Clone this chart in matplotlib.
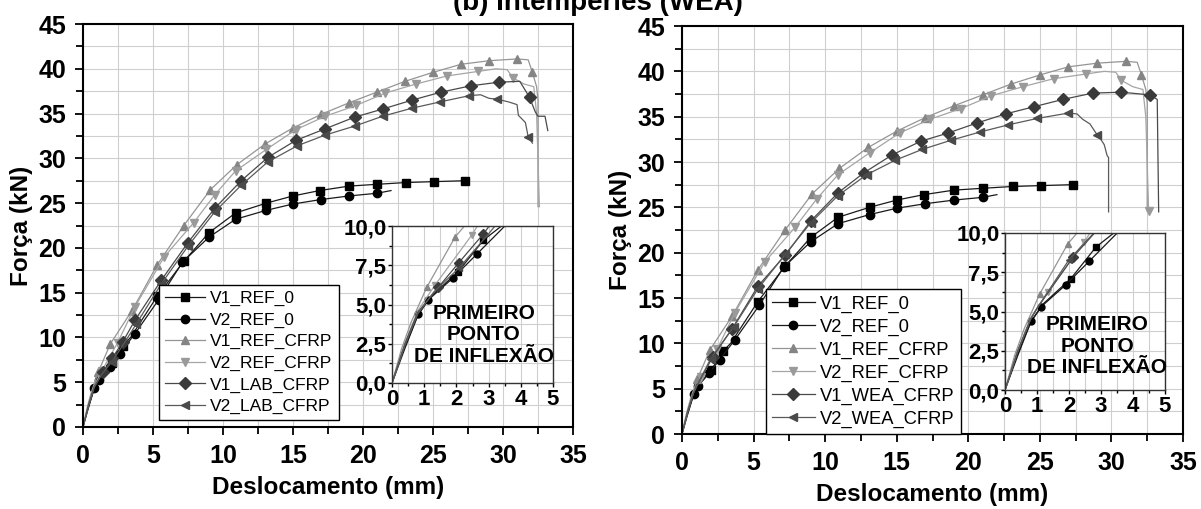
import matplotlib
matplotlib.use('Agg')
import matplotlib.pyplot as plt
from matplotlib.ticker import MultipleLocator, FuncFormatter

plt.rcParams['font.family'] = ['Liberation Sans', 'DejaVu Sans']

# dados (deslocamento mm, força kN)
v1_ref0_x = [0, 0.3, 0.8, 1.2, 2.06, 2.84, 3.4, 5.3, 7.2, 9.0, 10.9, 13.1, 15.0, 16.9, 19.0, 21.0, 23.1, 25.1, 27.3]
v1_ref0_y = [0, 1.8, 4.3, 5.5, 7.1, 9.1, 10.0, 14.6, 18.5, 21.7, 23.9, 25.0, 25.8, 26.4, 26.9, 27.1, 27.3, 27.4, 27.5]

v2_ref0_x = [0, 0.4, 0.82, 1.13, 1.9, 2.63, 3.7, 5.4, 7.1, 9.0, 10.9, 13.1, 15.0, 17.0, 19.0, 21.0, 22.0]
v2_ref0_y = [0, 2.2, 4.4, 5.3, 6.7, 8.2, 10.4, 14.2, 18.4, 21.2, 23.2, 24.2, 24.9, 25.4, 25.8, 26.1, 26.4]

v1_refc_x = [0, 0.3, 0.6, 1.08, 1.96, 3.5, 5.3, 7.2, 9.1, 11.0, 13.0, 15.0, 17.0, 19.0, 21.0, 23.0, 25.0,
             27.0, 29.0, 31.0, 31.8, 32.1, 32.4, 32.5, 32.5]
v1_refc_y = [0, 2.2, 3.9, 6.1, 9.3, 13.0, 18.1, 22.5, 26.5, 29.3, 31.6, 33.4, 34.9, 36.2, 37.4, 38.6, 39.6,
             40.5, 40.9, 41.1, 41.0, 39.6, 38.0, 36.5, 24.6]

v2_refc_x = [0, 0.4, 0.8, 1.34, 2.47, 3.7, 5.8, 7.9, 9.4, 10.9, 13.1, 15.2, 17.3, 19.5, 21.6, 23.8, 26.0,
             28.2, 29.5, 30.3, 30.7, 31.5, 32.2, 32.4, 32.6]
v2_refc_y = [0, 2.5, 4.6, 6.25, 9.4, 13.4, 19.0, 22.8, 25.9, 28.6, 31.0, 33.2, 34.7, 35.9, 37.3, 38.3, 39.2,
             39.7, 40.0, 39.9, 39.0, 38.3, 38.0, 35.0, 24.6]

v1_lab_x = [0, 0.4, 0.8, 1.44, 2.07, 2.84, 3.7, 5.6, 7.5, 9.4, 11.3, 13.2, 15.2, 17.3, 19.4, 21.4, 23.5,
            25.6, 27.7, 29.7, 31.2, 31.9, 32.3, 32.5, 33.0, 33.2]
v1_lab_y = [0, 2.5, 4.5, 6.1, 7.65, 9.5, 11.9, 16.4, 20.6, 24.4, 27.5, 30.1, 32.0, 33.3, 34.6, 35.5, 36.5,
            37.4, 38.1, 38.5, 38.6, 36.8, 35.2, 34.7, 34.7, 33.1]

v2_lab_x = [0, 0.4, 0.8, 1.3, 2.07, 3.0, 3.8, 5.6, 7.5, 9.4, 11.3, 13.2, 15.3, 17.3, 19.4, 21.4, 23.5,
            25.5, 27.6, 28.4, 29.0, 29.6, 30.4, 31.0, 31.1, 31.6, 31.8, 32.1]
v2_lab_y = [0, 2.4, 4.4, 5.8, 7.3, 9.5, 11.5, 16.0, 20.2, 24.0, 27.0, 29.6, 31.4, 32.6, 33.6, 34.7, 35.6,
            36.3, 37.0, 37.1, 36.7, 36.6, 36.3, 36.0, 34.8, 34.0, 32.4, 31.7]

v1_wea_x = [0, 0.4, 0.8, 1.0, 2.14, 3.5, 5.3, 7.2, 9.0, 10.9, 12.7, 14.7, 16.7, 18.6, 20.6, 22.6, 24.6,
            26.6, 28.7, 30.7, 32.7, 33.2, 33.3]
v1_wea_y = [0, 2.5, 4.5, 5.2, 8.5, 11.6, 16.3, 19.7, 23.5, 26.6, 28.8, 30.8, 32.3, 33.2, 34.3, 35.3, 36.1,
            36.9, 37.6, 37.7, 37.4, 36.9, 24.5]

v2_wea_x = [0, 0.4, 0.8, 1.0, 2.0, 3.6, 5.3, 7.2, 9.0, 10.9, 12.9, 14.9, 16.8, 18.8, 20.8, 22.8, 24.8,
            27.0, 27.6, 28.0, 28.5, 29.0, 29.3, 29.5, 29.7, 29.8, 29.8]
v2_wea_y = [0, 2.5, 4.5, 5.2, 8.3, 11.8, 16.0, 19.8, 23.3, 26.3, 28.6, 30.2, 31.4, 32.4, 33.3, 34.1, 34.8,
            35.4, 35.3, 34.7, 34.2, 33.0, 32.4, 31.9, 30.7, 30.5, 24.5]

labels_left = ['V1_REF_0', 'V2_REF_0', 'V1_REF_CFRP', 'V2_REF_CFRP', 'V1_LAB_CFRP', 'V2_LAB_CFRP']
labels_right = ['V1_REF_0', 'V2_REF_0', 'V1_REF_CFRP', 'V2_REF_CFRP', 'V1_WEA_CFRP', 'V2_WEA_CFRP']

# estilo de cada curva: marcador, cor da linha, cor do marcador
styles = [
    ('s', '#1a1a1a', '#000000'),
    ('o', '#1a1a1a', '#000000'),
    ('^', '#959595', '#858585'),
    ('v', '#a5a5a5', '#9a9a9a'),
    ('D', '#4a4a4a', '#3a3a3a'),
    ('<', '#5a5a5a', '#4a4a4a'),
]

marks_left = [
    [4, 5] + list(range(7, 19)),
    list(range(2, 16)),
    list(range(3, 20)) + [21],
    list(range(3, 18)) + [20],
    list(range(3, 20)) + [21],
    [4] + list(range(6, 19)) + [21, 26],
]
marks_right = [
    [4, 5] + list(range(7, 19)),
    list(range(2, 16)),
    list(range(3, 20)) + [21],
    list(range(3, 18)) + [20, 24],
    list(range(4, 21)),
    list(range(4, 18)) + [21],
]

series_left = [(v1_ref0_x, v1_ref0_y), (v2_ref0_x, v2_ref0_y), (v1_refc_x, v1_refc_y),
               (v2_refc_x, v2_refc_y), (v1_lab_x, v1_lab_y), (v2_lab_x, v2_lab_y)]
series_right = [(v1_ref0_x, v1_ref0_y), (v2_ref0_x, v2_ref0_y), (v1_refc_x, v1_refc_y),
                (v2_refc_x, v2_refc_y), (v1_wea_x, v1_wea_y), (v2_wea_x, v2_wea_y)]

W, H = 1201, 509
fig = plt.figure(figsize=(W / 100, H / 100), dpi=100)


def box(x0, y0, x1, y1):
    # caixa em pixels (topo-esquerda) -> coordenadas da figura
    return [x0 / W, 1 - y1 / H, (x1 - x0) / W, (y1 - y0) / H]


def draw_curves(ax, series, labels, marks, ms):
    for (x, y), lab, (m, lc, mc), mk in zip(series, labels, styles, marks):
        ax.plot(x, y, color=lc, lw=0.9, marker=m, ms=ms, mfc=mc, mec=mc,
                markevery=mk, label=lab)


def style_main(ax):
    ax.set_xlim(0, 35)
    ax.set_ylim(0, 45)
    ax.xaxis.set_major_locator(MultipleLocator(5))
    ax.xaxis.set_minor_locator(MultipleLocator(2.5))
    ax.yaxis.set_major_locator(MultipleLocator(5))
    ax.yaxis.set_minor_locator(MultipleLocator(2.5))
    ax.grid(which='both', color='#cfcfcf', lw=0.8)
    ax.set_axisbelow(True)
    ax.tick_params(which='both', direction='out', top=False, right=False, width=1.3)
    ax.tick_params(which='major', length=6, labelsize=18, pad=6)
    ax.tick_params(which='minor', length=5)
    for t in ax.get_xticklabels() + ax.get_yticklabels():
        t.set_fontweight('bold')
    for s in ax.spines.values():
        s.set_linewidth(1.5)
    ax.set_xlabel('Deslocamento (mm)', fontsize=17.5, fontweight='bold', labelpad=6)
    ax.set_ylabel('Força (kN)', fontsize=17.5, fontweight='bold', labelpad=4)


def style_inset(ax):
    ax.set_xlim(0, 5)
    ax.set_ylim(0, 10)
    ax.xaxis.set_major_locator(MultipleLocator(1))
    ax.xaxis.set_minor_locator(MultipleLocator(0.5))
    ax.yaxis.set_major_locator(MultipleLocator(2.5))
    ax.yaxis.set_minor_locator(MultipleLocator(1.25))
    ax.yaxis.set_major_formatter(FuncFormatter(lambda v, p: f'{v:.1f}'.replace('.', ',')))
    ax.grid(which='both', color='#cfcfcf', lw=0.8)
    ax.set_axisbelow(True)
    ax.tick_params(which='both', direction='out', top=False, right=False, width=1.0)
    ax.tick_params(which='major', length=3, labelsize=16, pad=1)
    ax.tick_params(which='minor', length=2)
    for t in ax.get_xticklabels() + ax.get_yticklabels():
        t.set_fontweight('bold')
    for s in ax.spines.values():
        s.set_linewidth(1.0)
        s.set_color('#333333')


ax1 = fig.add_axes(box(83, 24, 573, 427))
draw_curves(ax1, series_left, labels_left, marks_left, 6)
style_main(ax1)
ax1.legend(loc='upper left', bbox_to_anchor=(159 / W, 1 - 285 / H), bbox_transform=fig.transFigure,
           borderaxespad=0, fontsize=12.5, fancybox=False, framealpha=1, edgecolor='black',
           handlelength=2.3, handletextpad=0.3, labelspacing=0.36, borderpad=0.35)

ax2 = fig.add_axes(box(682, 26, 1183, 434))
draw_curves(ax2, series_right, labels_right, marks_right, 6)
style_main(ax2)
ax2.legend(loc='upper left', bbox_to_anchor=(766 / W, 1 - 289 / H), bbox_transform=fig.transFigure,
           borderaxespad=0, fontsize=13.2, fancybox=False, framealpha=1, edgecolor='black',
           handlelength=2.3, handletextpad=0.3, labelspacing=0.32, borderpad=0.35)

in1 = fig.add_axes(box(392, 226, 553, 383))
draw_curves(in1, series_left, labels_left, marks_left, 5)
style_inset(in1)

in2 = fig.add_axes(box(1005, 233, 1165, 390))
draw_curves(in2, series_right, labels_right, marks_right, 5)
style_inset(in2)

fig.text(484 / W, 1 - 335 / H, 'PRIMEIRO\nPONTO\nDE INFLEXÃO', ha='center', va='center',
         fontsize=15, fontweight='bold', linespacing=1.15)
fig.text(1097 / W, 1 - 346 / H, 'PRIMEIRO\nPONTO\nDE INFLEXÃO', ha='center', va='center',
         fontsize=15, fontweight='bold', linespacing=1.15)

# título cortado no topo, como na imagem original
fig.text(598 / W, 1 - 10 / H, '(b) Intempéries (WEA)', ha='center', va='baseline',
         fontsize=20, fontweight='bold')

fig.savefig('out.png', dpi=100)
